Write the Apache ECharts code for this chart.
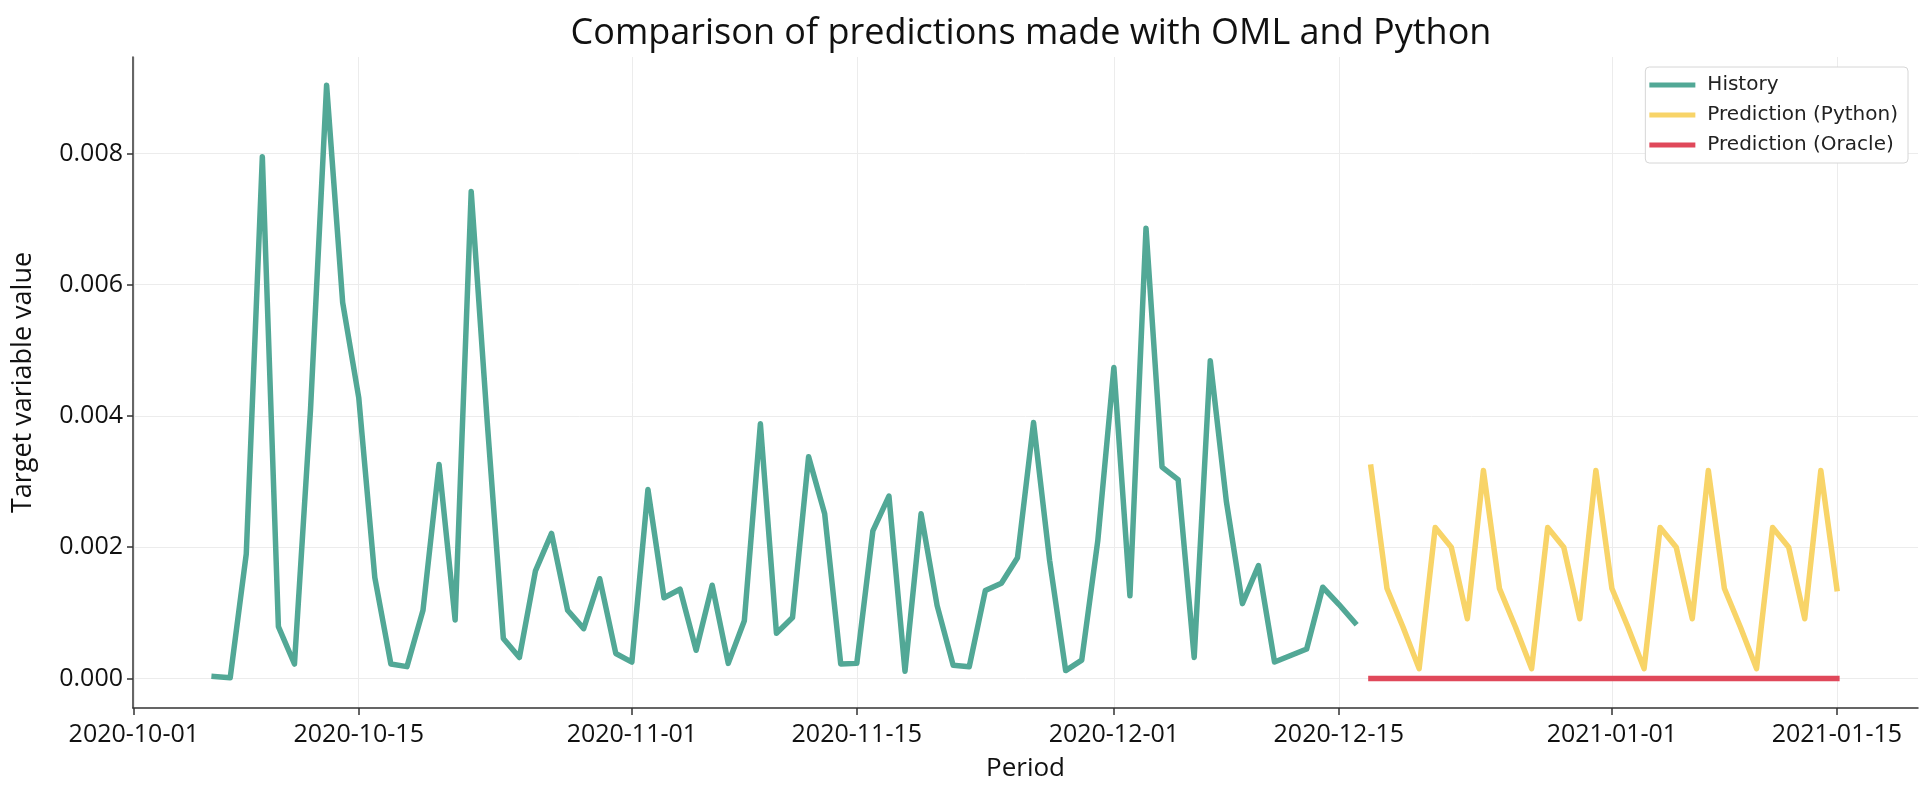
<!DOCTYPE html>
<html>
<head>
<meta charset="utf-8">
<script src="https://cdn.jsdelivr.net/npm/echarts@6/dist/echarts.min.js"></script>
<style>
html,body{margin:0;padding:0;background:#fff;}
#chart{width:1932px;height:798px;}
</style>
</head>
<body>
<div id="chart"></div>
<script>
// ---- data ----
const historyDates = [
  '2020-10-06','2020-10-07','2020-10-08','2020-10-09','2020-10-10','2020-10-11','2020-10-12','2020-10-13','2020-10-14','2020-10-15',
  '2020-10-16','2020-10-17','2020-10-18','2020-10-19','2020-10-20','2020-10-21','2020-10-22','2020-10-23','2020-10-24','2020-10-25',
  '2020-10-26','2020-10-27','2020-10-28','2020-10-29','2020-10-30','2020-10-31','2020-11-01','2020-11-02','2020-11-03','2020-11-04',
  '2020-11-05','2020-11-06','2020-11-07','2020-11-08','2020-11-09','2020-11-10','2020-11-11','2020-11-12','2020-11-13','2020-11-14',
  '2020-11-15','2020-11-16','2020-11-17','2020-11-18','2020-11-19','2020-11-20','2020-11-21','2020-11-22','2020-11-23','2020-11-24',
  '2020-11-25','2020-11-26','2020-11-27','2020-11-28','2020-11-29','2020-11-30','2020-12-01','2020-12-02','2020-12-03','2020-12-04',
  '2020-12-05','2020-12-06','2020-12-07','2020-12-08','2020-12-09','2020-12-10','2020-12-11','2020-12-12','2020-12-13','2020-12-14',
  '2020-12-15','2020-12-16'
];
const historyValues = [
  0.00003,0.00001,0.0019,0.00795,0.00079,0.00022,0.0041,0.00904,0.00573,0.00428,
  0.00154,0.00022,0.00018,0.00104,0.00326,0.00089,0.00742,0.0039,0.00061,0.00032,
  0.00164,0.00221,0.00104,0.00076,0.00152,0.00038,0.00025,0.00288,0.00123,0.00136,
  0.00043,0.00142,0.00023,0.00088,0.00388,0.00069,0.00093,0.00338,0.00251,0.00022,
  0.00023,0.00225,0.00278,0.00011,0.00251,0.00111,0.0002,0.00018,0.00134,0.00145,
  0.00184,0.0039,0.0018,0.00012,0.00028,0.0021,0.00474,0.00126,0.00686,0.00322,
  0.00303,0.00032,0.00484,0.0027,0.00114,0.00172,0.00025,0.00035,0.00045,0.00139,
  0.00113,0.00085
];
const predDates = [
  '2020-12-17','2020-12-18','2020-12-19','2020-12-20','2020-12-21','2020-12-22','2020-12-23','2020-12-24','2020-12-25','2020-12-26',
  '2020-12-27','2020-12-28','2020-12-29','2020-12-30','2020-12-31','2021-01-01','2021-01-02','2021-01-03','2021-01-04','2021-01-05',
  '2021-01-06','2021-01-07','2021-01-08','2021-01-09','2021-01-10','2021-01-11','2021-01-12','2021-01-13','2021-01-14','2021-01-15'
];
const pythonValues = [
  0.00322,0.00137,0.00078,0.00015,0.0023,0.002,0.00091,
  0.00317,0.00137,0.00078,0.00015,0.0023,0.002,0.00091,
  0.00317,0.00137,0.00078,0.00015,0.0023,0.002,0.00091,
  0.00317,0.00137,0.00078,0.00015,0.0023,0.002,0.00091,
  0.00317,0.00137
];
const oracleValues = [
  0,0,0,0,0,0,0,0,0,0,
  0,0,0,0,0,0,0,0,0,0,
  0,0,0,0,0,0,0,0,0,0
];
const xTickLabels = ['2020-10-01','2020-10-15','2020-11-01','2020-11-15','2020-12-01','2020-12-15','2021-01-01','2021-01-15'];
const yTickValues = [0, 0.002, 0.004, 0.006, 0.008];
const xRange = ['2020-09-30T22:48:00Z', '2021-01-20T01:12:00Z'];
const yRange = [-0.00045, 0.00947];

// ---- helpers ----
function ts(s) { return s.length > 10 ? Date.parse(s) : Date.parse(s + 'T00:00:00Z'); }
function pad(n) { return (n < 10 ? '0' : '') + n; }
function fmtDate(v) {
  const d = new Date(v);
  return d.getUTCFullYear() + '-' + pad(d.getUTCMonth() + 1) + '-' + pad(d.getUTCDate());
}
function pairs(dates, vals) { return dates.map((d, i) => [ts(d), vals[i]]); }

const GEO = 'Open Sans';
const chart = echarts.init(document.getElementById('chart'), null, {renderer: 'canvas'});
const lineBase = {type: 'line', showSymbol: false, symbol: 'none', animation: false, silent: true};

chart.setOption({
  animation: false,
  backgroundColor: '#ffffff',
  title: {
    text: 'Comparison of predictions made with OML and Python',
    left: 1026, top: 11, textAlign: 'center',
    textStyle: {fontFamily: GEO, fontSize: 36, fontWeight: 'normal', color: '#111'}
  },
  legend: {
    orient: 'vertical', right: 24, top: 67,
    padding: [8, 10, 8, 4],
    backgroundColor: '#fff', borderColor: '#d6d6d6', borderWidth: 1, borderRadius: 4,
    icon: 'rect', itemWidth: 46, itemHeight: 5, itemGap: 10,
    textStyle: {fontFamily: 'DejaVu Sans', fontSize: 20, color: '#222', lineHeight: 20, padding: [0, 0, 0, 7]},
    data: ['History', 'Prediction (Python)', 'Prediction (Oracle)']
  },
  grid: {left: 133, right: 14, top: 57, bottom: 90, containLabel: false},
  xAxis: {
    type: 'value',
    min: ts(xRange[0]), max: ts(xRange[1]),
    name: 'Period', nameLocation: 'middle', nameGap: 48,
    nameTextStyle: {fontFamily: GEO, fontSize: 26, color: '#111'},
    axisLine: {show: true, onZero: false, lineStyle: {color: '#333', width: 1.5}},
    axisTick: {show: true, length: 7, lineStyle: {color: '#333', width: 1.5}, customValues: xTickLabels.map(ts)},
    axisLabel: {
      customValues: xTickLabels.map(ts), margin: 14,
      fontFamily: GEO, fontSize: 25, color: '#111',
      formatter: v => fmtDate(v)
    },
    splitLine: {show: true, lineStyle: {color: '#ececec', width: 1}}
  },
  yAxis: {
    type: 'value',
    min: yRange[0], max: yRange[1],
    name: 'Target variable value', nameLocation: 'middle', nameGap: 96,
    nameTextStyle: {fontFamily: GEO, fontSize: 27, color: '#111'},
    axisLine: {show: true, onZero: false, lineStyle: {color: '#333', width: 1.5}},
    axisTick: {show: true, length: 6, lineStyle: {color: '#333', width: 1.5}, customValues: yTickValues},
    axisLabel: {
      customValues: yTickValues, margin: 10,
      fontFamily: GEO, fontSize: 25, color: '#111',
      formatter: v => v.toFixed(3)
    },
    splitLine: {show: true, lineStyle: {color: '#ececec', width: 1}}
  },
  series: [
    Object.assign({}, lineBase, {
      name: 'History', data: pairs(historyDates, historyValues),
      itemStyle: {color: '#52A896'},
      lineStyle: {color: '#52A896', width: 5.5, join: 'round', cap: 'square'}
    }),
    Object.assign({}, lineBase, {
      name: 'Prediction (Python)', data: pairs(predDates, pythonValues),
      itemStyle: {color: '#F8D468'},
      lineStyle: {color: '#F8D468', width: 5.5, join: 'round', cap: 'square'}
    }),
    Object.assign({}, lineBase, {
      name: 'Prediction (Oracle)', data: pairs(predDates, oracleValues),
      itemStyle: {color: '#E0485A'},
      lineStyle: {color: '#E0485A', width: 5.5, join: 'round', cap: 'square'}
    })
  ]
});
</script>
</body>
</html>
